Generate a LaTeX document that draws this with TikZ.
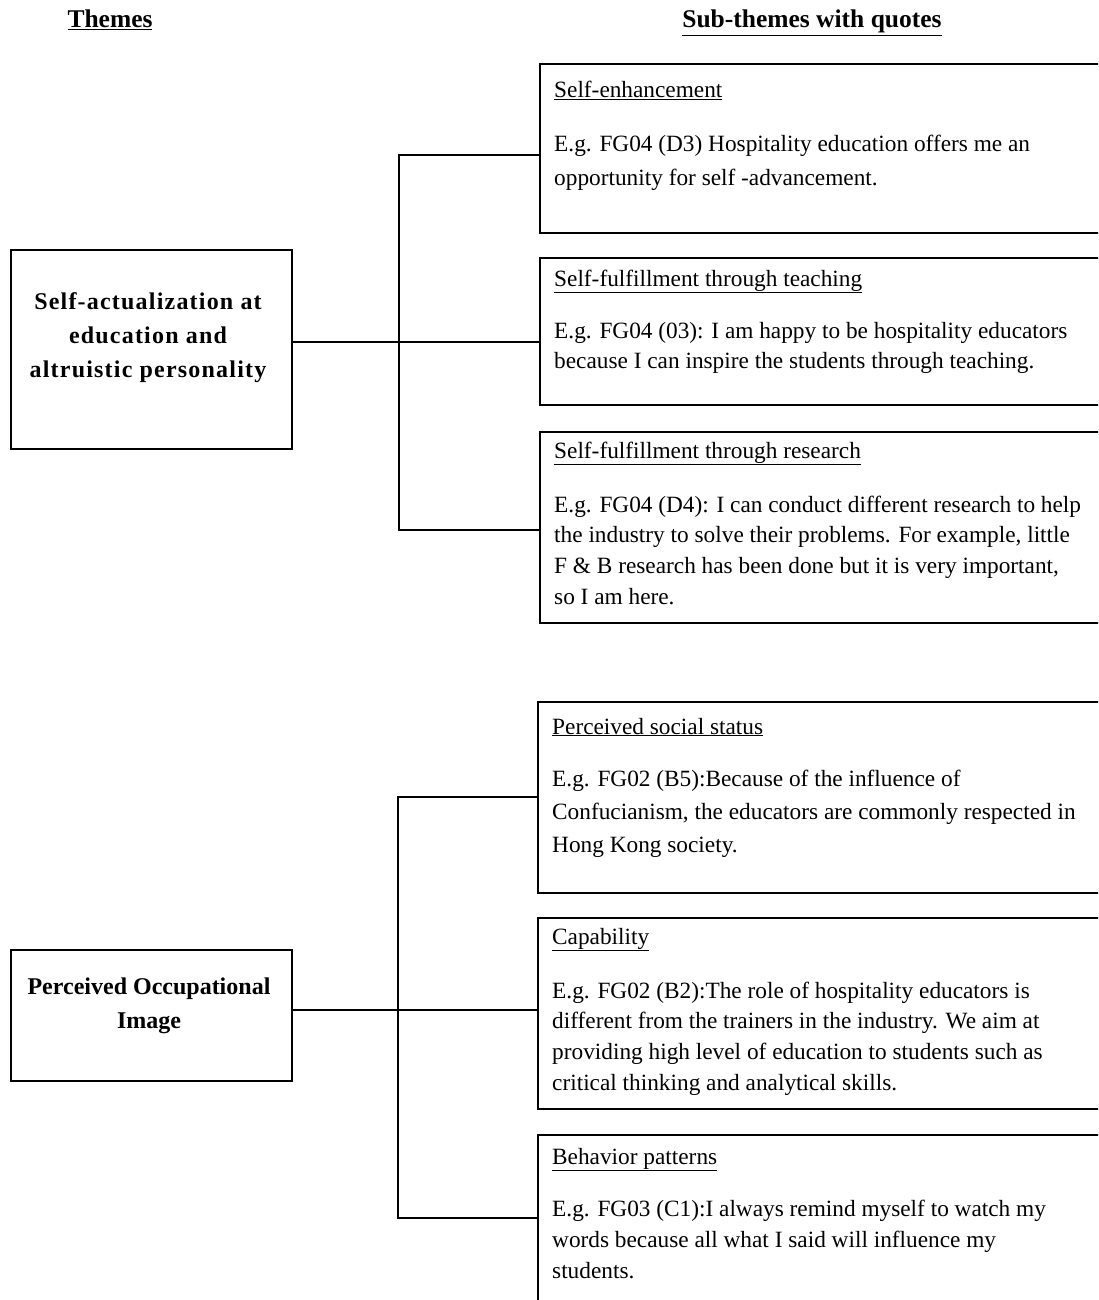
\documentclass[tikz,border=0pt]{standalone}
\usepackage{fontspec}
\setmainfont{Liberation Serif}
\newcommand\qlines[2]{\parbox[t]{700pt}{\fontsize{23.3}{#1}\selectfont\raggedright #2}}
\begin{document}
\begin{tikzpicture}[x=1pt,y=-1pt,
  box/.style={draw, line width=1.8pt, anchor=north west, inner sep=0},
  link/.style={line width=1.8pt},
  hdr/.style={font=\fontsize{25.5}{30}\selectfont\bfseries, anchor=base, inner sep=0},
  ttl/.style={anchor=base west, inner sep=0, font=\fontsize{23.3}{28}\selectfont},
  qt/.style={anchor=base west, inner sep=0},
  thm/.style={anchor=center, inner sep=0, font=\fontsize{24}{34}\selectfont\bfseries, align=center},
  thmwide/.style={thm, font=\fontsize{24}{34}\selectfont\bfseries\addfontfeatures{LetterSpace=5}}]
\useasboundingbox (0,0) rectangle (1098,1300);
\clip (0,0) rectangle (1098,1300);

% headers
\node[hdr] (h1) at (110,28) {\underline{Themes}};
\node[hdr] (h2) at (812,28) {\underline{Sub-themes with quotes}};

% theme boxes
\node[box, minimum width=281pt, minimum height=199pt] (A) at (10,249) {};
\node[thmwide] (At) at (148,338) {Self-actualization at\\education and\\altruistic personality};
\node[box, minimum width=281pt, minimum height=131pt] (B) at (10,949) {};
\node[thm] (Bt) at (149,1006) {Perceived Occupational\\Image};

% sub-theme boxes
\node[box, minimum width=600pt, minimum height=169pt] (S1) at (539,63) {};
\node[box, minimum width=600pt, minimum height=147pt] (S2) at (539,257) {};
\node[box, minimum width=600pt, minimum height=191pt] (S3) at (539,431) {};
\node[box, minimum width=600pt, minimum height=191pt] (P1) at (537,701) {};
\node[box, minimum width=600pt, minimum height=191pt] (P2) at (537,917) {};
\node[box, minimum width=600pt, minimum height=200pt] (P3) at (537,1134) {};

% titles
\node[ttl] (S1t) at (554,98) {\underline{Self-enhancement}};
\node[ttl] (S2t) at (554,286) {\underline{Self-fulfillment through teaching}};
\node[ttl] (S3t) at (554,458) {\underline{Self-fulfillment through research}};
\node[ttl] (P1t) at (552,734) {\underline{Perceived social status}};
\node[ttl] (P2t) at (552,944) {\underline{Capability}};
\node[ttl] (P3t) at (552,1164) {\underline{Behavior patterns}};

% quotes
\node[qt] (S1q) at (554,152) {\qlines{34pt}{E.g. FG04 (D3) Hospitality education offers me an\\opportunity for self -advancement.}};
\node[qt] (S2q) at (554,338) {\qlines{30pt}{E.g. FG04 (03): I am happy to be hospitality educators\\because I can inspire the students through teaching.}};
\node[qt] (S3q) at (554,512) {\qlines{30.7pt}{E.g. FG04 (D4): I can conduct different research to help\\the industry to solve their problems. For example, little\\F \& B research has been done but it is very important,\\so I am here.}};
\node[qt] (P1q) at (552,786) {\qlines{33pt}{E.g. FG02 (B5):Because of the influence of\\Confucianism, the educators are commonly respected in\\Hong Kong society.}};
\node[qt] (P2q) at (552,998) {\qlines{30.7pt}{E.g. FG02 (B2):The role of hospitality educators is\\different from the trainers in the industry. We aim at\\providing high level of education to students such as\\critical thinking and analytical skills.}};
\node[qt] (P3q) at (552,1216) {\qlines{31pt}{E.g. FG03 (C1):I always remind myself to watch my\\words because all what I said will influence my\\students.}};

% connectors, theme 1
\coordinate (jA) at (399,342);
\coordinate (tA) at (399,155);
\coordinate (bA) at (399,530);
\draw[link] (A.east |- jA) -- (S2.west |- jA);
\draw[link] (S1.west |- tA) -- (tA) -- (bA) -- (S3.west |- bA);

% connectors, theme 2
\coordinate (jB) at (398,1010);
\coordinate (tB) at (398,797);
\coordinate (bB) at (398,1218);
\draw[link] (B.east |- jB) -- (P2.west |- jB);
\draw[link] (P1.west |- tB) -- (tB) -- (bB) -- (P3.west |- bB);
\end{tikzpicture}
\end{document}
